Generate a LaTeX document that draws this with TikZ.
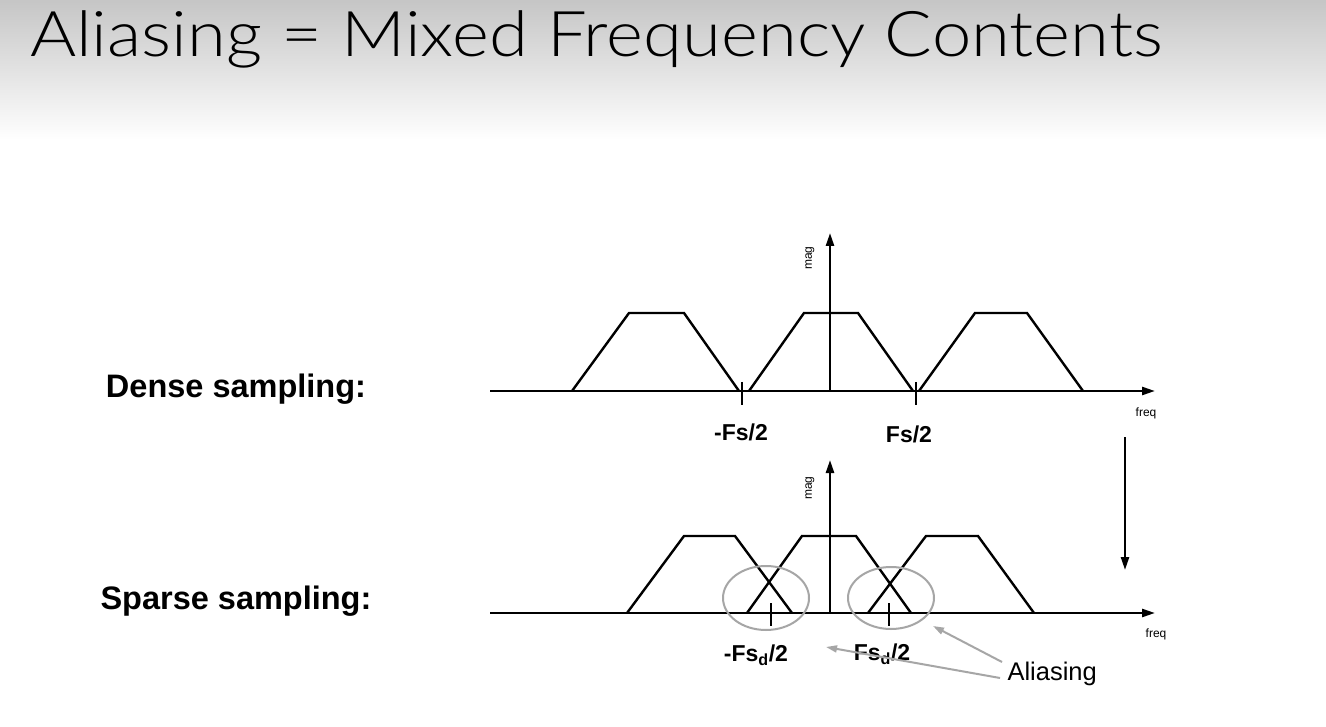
\documentclass[tikz,border=0pt]{standalone}
\usepackage{fontspec}
\setmainfont{Liberation Sans}
\newfontfamily\titlefont{Lato Light}
\usetikzlibrary{arrows.meta}
\tikzset{
  curve/.style={line width=2.4pt,line join=miter},
  axis/.style={line width=2.4pt,-{Triangle[length=13pt,width=8pt]}},
  tickmark/.style={line width=2.4pt},
  ring/.style={draw=gray!70,line width=2pt},
  pointer/.style={draw=gray!70,line width=2pt,-{Triangle[length=11pt,width=7pt]},fill=gray!70},
  sidelabel/.style={font=\bfseries\fontsize{32.5}{36}\selectfont},
  freqlabel/.style={font=\bfseries\fontsize{23}{26}\selectfont},
  smalllabel/.style={font=\fontsize{12}{14}\selectfont}
}
\begin{document}
\begin{tikzpicture}[x=1pt,y=-1pt]
\useasboundingbox (0,0) rectangle (1326,727);
\fill[white] (0,0) rectangle (1326,727);
\shade[top color=gray!45,bottom color=white] (0,0) rectangle (1326,140);
\node[anchor=base west,inner sep=0pt,xscale=1.12,font=\titlefont\fontsize{63}{70}\selectfont] (title) at (30,57) {Aliasing = Mixed Frequency Contents};

% ---------- Dense sampling ----------
\node[sidelabel] (dense) at (236,389) {Dense sampling:};
\coordinate (ta0) at (490,391);
\coordinate (ta1) at (1155,391);
\draw[axis] (ta0) -- (ta1);
\coordinate (tv0) at (830,391);
\coordinate (tv1) at (830,233);
\draw[axis] (tv0) -- (tv1);
\draw[curve] (572,391) -- (629,313) -- (684,313) -- (739,391);
\draw[curve] (749,391) -- (804,313) -- (858,313) -- (913,391);
\draw[curve] (919,391) -- (975,313) -- (1027,313) -- (1083,391);
\draw[tickmark] (742,382) -- (742,405);
\draw[tickmark] (916,382) -- (916,405);
\node[freqlabel] (tneg) at (741,432) {-Fs/2};
\node[freqlabel] (tpos) at (909,434) {Fs/2};
\node[smalllabel] (tfreq) at (1146,413) {freq};
\node[smalllabel,rotate=90] (tmag) at (810,258) {mag};

% ---------- arrow between ----------
\coordinate (d0) at (1125,437);
\coordinate (d1) at (1125,570);
\draw[axis] (d0) -- (d1);

% ---------- Sparse sampling ----------
\node[sidelabel] (sparse) at (236,601) {Sparse sampling:};
\coordinate (ba0) at (490,613);
\coordinate (ba1) at (1155,613);
\draw[axis] (ba0) -- (ba1);
\coordinate (bv0) at (830,613);
\coordinate (bv1) at (830,460);
\draw[axis] (bv0) -- (bv1);
\draw[curve] (627,613) -- (684,536) -- (735,536) -- (792,613);
\draw[curve] (747,613) -- (802,536) -- (856,536) -- (911,613);
\draw[curve] (868,613) -- (926,536) -- (978,536) -- (1034,613);
\draw[tickmark] (771,603) -- (771,626);
\draw[tickmark] (889,603) -- (889,626);
\draw[ring] (766,598) ellipse[x radius=43,y radius=32];
\draw[ring] (891,598) ellipse[x radius=43,y radius=31];
\node[freqlabel] (bneg) at (756,655) {-Fs\textsubscript{d}/2};
\node[freqlabel] (bpos) at (882,654) {Fs\textsubscript{d}/2};
\node[smalllabel] (bfreq) at (1156,634) {freq};
\node[smalllabel,rotate=90] (bmag) at (810,488) {mag};
\node[font=\fontsize{25.5}{28}\selectfont,anchor=west] (alias) at (1004,674) {Aliasing};
\coordinate (p1) at (933,626);
\coordinate (p2) at (826,647);
\draw[pointer] (alias.west) ++(-2,-12) -- (p1);
\draw[pointer] (alias.west) ++(-4,4) -- (p2);
\end{tikzpicture}
\end{document}
